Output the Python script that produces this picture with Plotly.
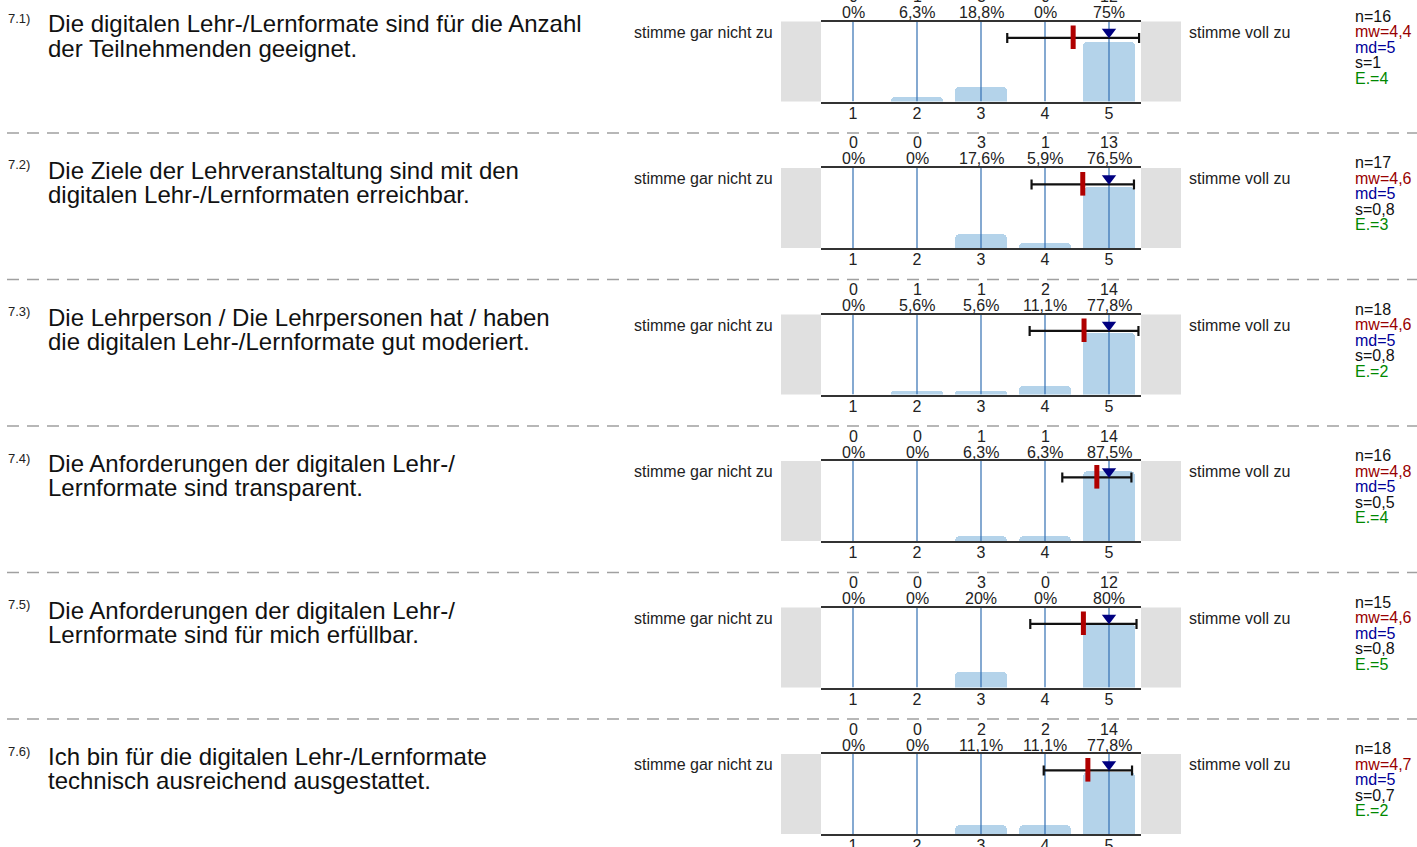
import plotly.graph_objects as go

# ---------------- data ----------------
item_numbers = ["7.1)", "7.2)", "7.3)", "7.4)", "7.5)", "7.6)"]
questions = [
    ["Die digitalen Lehr-/Lernformate sind für die Anzahl", "der Teilnehmenden geeignet."],
    ["Die Ziele der Lehrveranstaltung sind mit den", "digitalen Lehr-/Lernformaten erreichbar."],
    ["Die Lehrperson / Die Lehrpersonen hat / haben", "die digitalen Lehr-/Lernformate gut moderiert."],
    ["Die Anforderungen der digitalen Lehr-/", "Lernformate sind transparent."],
    ["Die Anforderungen der digitalen Lehr-/", "Lernformate sind für mich erfüllbar."],
    ["Ich bin für die digitalen Lehr-/Lernformate", "technisch ausreichend ausgestattet."],
]
categories = [1, 2, 3, 4, 5]
left_label = "stimme gar nicht zu"
right_label = "stimme voll zu"
counts = [
    [0, 1, 3, 0, 12],
    [0, 0, 3, 1, 13],
    [0, 1, 1, 2, 14],
    [0, 0, 1, 1, 14],
    [0, 0, 3, 0, 12],
    [0, 0, 2, 2, 14],
]
percents = [
    [0, 6.3, 18.8, 0, 75],
    [0, 0, 17.6, 5.9, 76.5],
    [0, 5.6, 5.6, 11.1, 77.8],
    [0, 0, 6.3, 6.3, 87.5],
    [0, 0, 20, 0, 80],
    [0, 0, 11.1, 11.1, 77.8],
]
n_values = [16, 17, 18, 16, 15, 18]
means = [4.44, 4.59, 4.61, 4.81, 4.60, 4.67]
sds = [1.03, 0.80, 0.85, 0.54, 0.83, 0.69]
medians = [5, 5, 5, 5, 5, 5]
abstentions = [4, 3, 2, 4, 5, 2]

# ---------------- layout constants ----------------
W, H = 1417, 847
ROW0 = 21.5      # top line of first panel (px)
PITCH = 146.5    # vertical distance between panels (px)
PH = 80.0        # panel height (px)
PX0, PX1 = 821.0, 1141.0
GRAY_W = 40.0
FONT = "Liberation Sans, Arial, Helvetica, sans-serif"
BAR_COLOR = "#b4d3ea"
GRID_COLOR = "#3370b3"
ERR_Y = 79.5             # y (percent scale) of the s-bar
MEAN_Y0, MEAN_Y1 = 65.5, 95.0
MED_Y = 87.0


def px_x(x):
    return x / W


def px_y(y):
    return 1 - y / H


def fmt(v):
    s = f"{v:.1f}"
    if s.endswith(".0"):
        s = s[:-2]
    return s.replace(".", ",")


fig = go.Figure()
annotations = []
shapes = []
layout_axes = {}

for i in range(len(questions)):
    top = ROW0 + i * PITCH
    bot = top + PH
    sfx = "" if i == 0 else str(i + 1)
    xa, ya = "x" + sfx, "y" + sfx

    # bars
    fig.add_trace(go.Bar(x=categories, y=percents[i], width=0.8,
                         marker=dict(color=BAR_COLOR, line=dict(width=0)),
                         xaxis=xa, yaxis=ya, showlegend=False, hoverinfo="skip"))
    # category lines
    gx, gy = [], []
    for c in categories:
        gx += [c, c, None]
        gy += [0, 100, None]
    fig.add_trace(go.Scatter(x=gx, y=gy, mode="lines",
                             line=dict(color=GRID_COLOR, width=1.2),
                             xaxis=xa, yaxis=ya, showlegend=False, hoverinfo="skip"))
    # standard deviation bar
    fig.add_trace(go.Scatter(x=[means[i]], y=[ERR_Y], mode="markers",
                             marker=dict(size=1, color="rgba(0,0,0,0)"),
                             error_x=dict(type="data", array=[sds[i]], color="#111111",
                                          thickness=2.2, width=5),
                             xaxis=xa, yaxis=ya, showlegend=False, hoverinfo="skip"))
    # mean marker
    fig.add_trace(go.Scatter(x=[means[i], means[i]], y=[MEAN_Y0, MEAN_Y1], mode="lines",
                             line=dict(color="#b00000", width=5),
                             xaxis=xa, yaxis=ya, showlegend=False, hoverinfo="skip"))
    # median marker
    fig.add_trace(go.Scatter(x=[medians[i]], y=[MED_Y], mode="markers",
                             marker=dict(symbol="triangle-down", size=12.5, color="#000080"),
                             xaxis=xa, yaxis=ya, showlegend=False, hoverinfo="skip"))

    layout_axes["xaxis" + sfx] = dict(
        domain=[px_x(PX0), px_x(PX1)], anchor=ya, range=[0.5, 5.5],
        tickvals=categories, ticktext=[str(c) for c in categories],
        showgrid=False, zeroline=False, ticks="", showline=True, mirror=True,
        linecolor="#333333", linewidth=2, fixedrange=True, ticklabelstandoff=-4,
        automargin=False,
        tickfont=dict(family=FONT, size=16, color="#222222"))
    layout_axes["yaxis" + sfx] = dict(
        domain=[px_y(bot), px_y(top)], anchor=xa, range=[0, 100],
        visible=False, fixedrange=True, automargin=False)

    # gray boxes
    for x0 in (PX0 - GRAY_W, PX1):
        shapes.append(dict(type="rect", xref="paper", yref="paper",
                           x0=px_x(x0), x1=px_x(x0 + GRAY_W),
                           y0=px_y(bot), y1=px_y(top),
                           fillcolor="#e0e0e0", line=dict(width=0), layer="below"))

    # counts and percents above columns
    for c, cnt, p in zip(categories, counts[i], percents[i]):
        annotations.append(dict(x=c, xref=xa, y=px_y(top - 25), yref="paper",
                                text=str(cnt), showarrow=False, yanchor="middle",
                                font=dict(family=FONT, size=16, color="#222222")))
        annotations.append(dict(x=c, xref=xa, y=px_y(top - 9), yref="paper",
                                text=fmt(p) + "%", showarrow=False, yanchor="middle",
                                font=dict(family=FONT, size=16, color="#222222")))

    # side labels
    annotations.append(dict(x=px_x(774.5), y=px_y(top + 10.5), xref="paper", yref="paper",
                            text=left_label, showarrow=False, xanchor="right", yanchor="middle",
                            font=dict(family=FONT, size=16, color="#222222")))
    annotations.append(dict(x=px_x(1187), y=px_y(top + 10.5), xref="paper", yref="paper",
                            text=right_label, showarrow=False, xanchor="left", yanchor="middle",
                            font=dict(family=FONT, size=16, color="#222222")))

    # item number and question text
    annotations.append(dict(x=px_x(6), y=px_y(top - 3), xref="paper", yref="paper",
                            text=item_numbers[i], showarrow=False, xanchor="left", yanchor="middle",
                            font=dict(family=FONT, size=13, color="#222222")))
    for k, line in enumerate(questions[i]):
        annotations.append(dict(x=px_x(46), y=px_y(top + 2.5 + 24 * k), xref="paper", yref="paper",
                                text=line, showarrow=False, xanchor="left", yanchor="middle",
                                font=dict(family=FONT, size=24, color="#111111")))

    # statistics
    stats = [
        (f"n={n_values[i]}", "#111111"),
        (f"mw={fmt(means[i])}", "#990000"),
        (f"md={medians[i]}", "#000099"),
        (f"s={fmt(sds[i])}", "#111111"),
        (f"E.={abstentions[i]}", "#008800"),
    ]
    for k, (txt, col) in enumerate(stats):
        annotations.append(dict(x=px_x(1353), y=px_y(top - 5.5 + 15.6 * k), xref="paper", yref="paper",
                                text=txt, showarrow=False, xanchor="left", yanchor="middle",
                                font=dict(family=FONT, size=16, color=col)))

    # dashed separator
    if i < len(questions) - 1:
        sy = top + 111.5
        shapes.append(dict(type="line", xref="paper", yref="paper",
                           x0=px_x(7), x1=1, y0=px_y(sy), y1=px_y(sy),
                           line=dict(color="#a0a0a0", width=1.4, dash="12px,8px")))

fig.update_layout(
    width=W, height=H, margin=dict(l=0, r=0, t=0, b=0, autoexpand=False),
    paper_bgcolor="white", plot_bgcolor="white",
    bargap=0, barcornerradius=5, showlegend=False,
    annotations=annotations, shapes=shapes, **layout_axes)

fig.write_html("out.html", include_plotlyjs=True,
               post_script=("document.documentElement.style.overflow='hidden';"
                            "document.body.style.margin='0';"),
               config={"displayModeBar": False})
